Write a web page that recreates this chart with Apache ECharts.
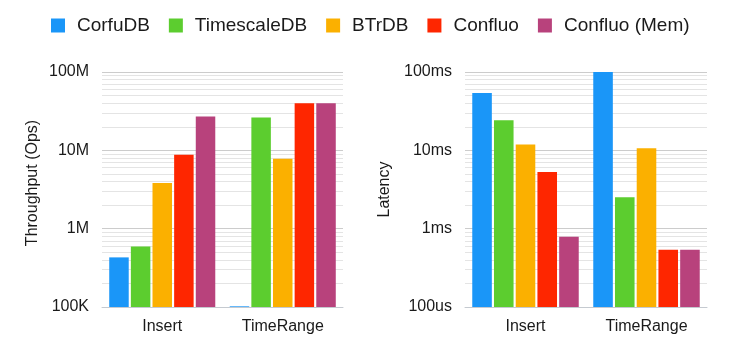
<!DOCTYPE html>
<html>
<head>
<meta charset="utf-8">
<script src="https://cdn.jsdelivr.net/npm/echarts@6/dist/echarts.min.js"></script>
<style>
html,body{margin:0;padding:0;background:#fff;}
#c{width:732px;height:355px;}
</style>
</head>
<body>
<div id="c"></div>
<script>
var categories = ['Insert', 'TimeRange'];
var seriesNames = ['CorfuDB', 'TimescaleDB', 'BTrDB', 'Confluo', 'Confluo (Mem)'];
var colors = ['#1a96f8', '#5ccd2f', '#fbb000', '#fe2600', '#b8427c'];

// Throughput (ops/s)
var thrCorfuDB = [430000, 102000];
var thrTimescaleDB = [590000, 26300000];
var thrBTrDB = [3840000, 7800000];
var thrConfluo = [8800000, 40000000];
var thrConfluoMem = [27100000, 40000000];

// Latency (microseconds)
var latCorfuDB = [54000, 100000];
var latTimescaleDB = [24300, 2520];
var latBTrDB = [11900, 10600];
var latConfluo = [5300, 537];
var latConfluoMem = [790, 537];

var thrTickLabels = ['100K', '1M', '10M', '100M'];
var latTickLabels = ['100us', '1ms', '10ms', '100ms'];
var thrMin = 100000, thrMax = 100000000;
var latMin = 100, latMax = 100000;

var FONT = '"Liberation Sans", Arial, Helvetica, sans-serif';

function minorLines(min, max) {
  var out = [];
  for (var d = min; d < max; d *= 10) {
    for (var k = 2; k <= 9; k++) out.push({ yAxis: k * d });
  }
  return out;
}

function tickFormatter(labels, min) {
  return function (v) {
    var i = Math.round(Math.log10(v / min));
    return labels[i] !== undefined ? labels[i] : '';
  };
}

var thrData = [thrCorfuDB, thrTimescaleDB, thrBTrDB, thrConfluo, thrConfluoMem];
var latData = [latCorfuDB, latTimescaleDB, latBTrDB, latConfluo, latConfluoMem];

function makeSeries(dataArr, axisIdx, min, max) {
  return dataArr.map(function (d, i) {
    var s = {
      name: seriesNames[i],
      type: 'bar',
      xAxisIndex: axisIdx,
      yAxisIndex: axisIdx,
      data: d,
      barCategoryGap: '12%',
      barGap: '11%',
      itemStyle: { color: colors[i] },
      z: 2
    };
    if (i === 0) {
      s.markLine = {
        silent: true,
        symbol: 'none',
        z: 1,
        label: { show: false },
        emphasis: { disabled: true },
        animation: false,
        lineStyle: { color: '#e4e4e4', width: 1, type: 'solid' },
        data: minorLines(min, max)
      };
    }
    return s;
  });
}

var chart = echarts.init(document.getElementById('c'), null, { renderer: 'canvas' });

var xAxisCommon = {
  type: 'category',
  data: categories,
  axisTick: { show: false },
  axisLine: { show: true, lineStyle: { color: '#c5cad0', width: 1 } },
  axisLabel: { fontSize: 16, color: '#1a1a1a', fontFamily: FONT, margin: 12 },
  splitLine: { show: false }
};

function yAxisCfg(gridIdx, min, max, labels, name, nameGap, namePad) {
  return {
    type: 'log',
    logBase: 10,
    gridIndex: gridIdx,
    min: min,
    max: max,
    name: name,
    nameLocation: 'middle',
    nameGap: nameGap,
    nameRotate: 90,
    nameTextStyle: { fontSize: 16, color: '#1a1a1a', fontFamily: FONT, padding: namePad },
    axisLine: { show: false },
    axisTick: { show: false },
    axisLabel: { fontSize: 16, color: '#1a1a1a', fontFamily: FONT, margin: 13, formatter: tickFormatter(labels, min) },
    splitLine: { show: true, lineStyle: { color: '#cccccc', width: 1 } }
  };
}

var option = {
  animation: false,
  backgroundColor: '#ffffff',
  textStyle: { fontFamily: FONT },
  color: colors,
  legend: {
    data: seriesNames,
    left: 51,
    top: 16,
    padding: 0,
    icon: 'rect',
    itemWidth: 14,
    itemHeight: 14,
    itemGap: 19,
    textStyle: { fontSize: 19, color: '#1a1a1a', fontFamily: FONT, padding: [0, 0, 0, 7] }
  },
  grid: [
    { left: 102, top: 72, width: 241, height: 235 },
    { left: 465, top: 72, width: 242, height: 235 }
  ],
  xAxis: [
    Object.assign({ gridIndex: 0 }, xAxisCommon),
    Object.assign({ gridIndex: 1 }, xAxisCommon)
  ],
  yAxis: [
    yAxisCfg(0, thrMin, thrMax, thrTickLabels, 'Throughput (Ops)', 61, [0, 0, 0, 13]),
    yAxisCfg(1, latMin, latMax, latTickLabels, 'Latency', 72, 0)
  ],
  series: makeSeries(thrData, 0, thrMin, thrMax).concat(makeSeries(latData, 1, latMin, latMax))
};

chart.setOption(option);
</script>
</body>
</html>
